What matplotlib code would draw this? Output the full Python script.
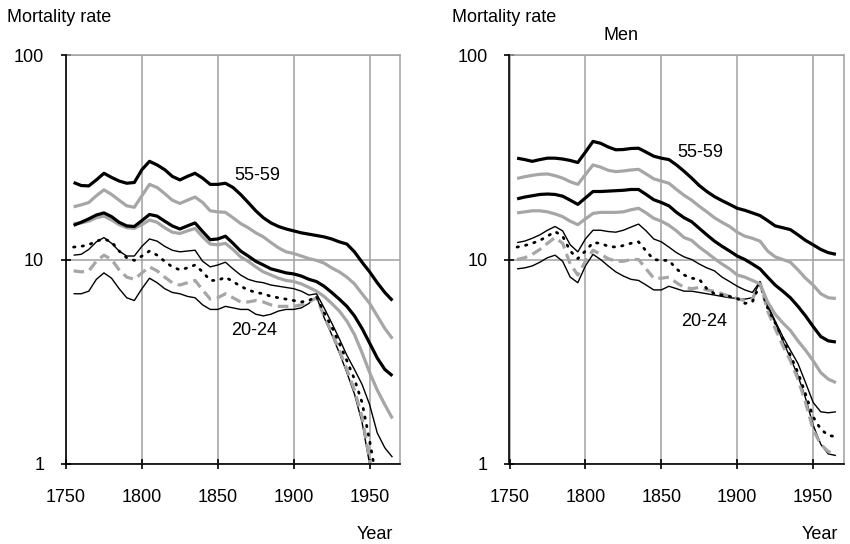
import matplotlib
matplotlib.use("Agg")
import matplotlib.pyplot as plt
from matplotlib.ticker import FixedLocator, FixedFormatter, NullLocator

plt.rcParams['font.family'] = ['Liberation Sans', 'DejaVu Sans']

years = list(range(1755, 1970, 5))

# ---------- Left panel ----------
L_55_59 = [23.8, 23.0, 22.9, 24.5, 26.4, 25.2, 24.2, 23.6, 23.8, 27.5, 30.2, 29.0, 27.5, 25.5, 24.5,
           25.5, 26.4, 25.0, 23.3, 23.3, 23.6, 22.5, 20.8, 19.0, 17.3, 16.0, 15.1, 14.5, 14.1, 13.8,
           13.5, 13.3, 13.1, 12.9, 12.6, 12.2, 11.9, 10.9, 9.7, 8.7, 7.7, 6.9, 6.3]
L_50_54 = [18.1, 18.5, 19.0, 20.5, 21.9, 20.8, 19.5, 18.3, 18.0, 20.5, 23.3, 22.5, 21.0, 19.5, 18.8,
           19.5, 20.2, 19.0, 17.3, 17.1, 17.0, 16.0, 15.0, 14.3, 13.5, 12.9, 12.1, 11.4, 10.9, 10.7,
           10.4, 10.1, 9.9, 9.6, 9.1, 8.7, 8.2, 7.6, 6.8, 6.1, 5.3, 4.6, 4.1]
L_45_49 = [14.7, 15.2, 15.8, 16.5, 16.9, 16.2, 15.2, 14.6, 14.5, 15.5, 16.6, 16.3, 15.4, 14.6, 14.1,
           14.6, 15.1, 13.7, 12.5, 12.6, 13.0, 12.0, 11.0, 10.4, 9.8, 9.4, 9.0, 8.8, 8.6, 8.5,
           8.3, 8.0, 7.8, 7.4, 6.9, 6.4, 5.9, 5.3, 4.6, 3.9, 3.3, 2.9, 2.7]
L_40_44 = [15.0, 15.1, 15.4, 16.0, 16.3, 15.6, 14.8, 14.3, 14.2, 14.8, 15.6, 15.2, 14.3, 13.6, 13.4,
           13.8, 14.2, 12.9, 11.9, 11.8, 12.0, 11.2, 10.3, 9.8, 9.2, 8.7, 8.4, 8.1, 7.9, 7.8,
           7.6, 7.3, 7.0, 6.6, 6.1, 5.6, 5.0, 4.3, 3.5, 2.8, 2.3, 1.95, 1.67]
L_35_39 = [10.5, 10.6, 11.2, 12.2, 12.8, 12.0, 11.0, 10.4, 10.4, 11.6, 12.6, 12.3, 11.6, 11.1, 10.9,
           11.0, 11.1, 9.8, 9.2, 9.4, 9.7, 9.0, 8.4, 8.0, 7.8, 7.7, 7.5, 7.4, 7.3, 7.2,
           7.0, 6.7, 6.8, 5.8, 4.9, 4.1, 3.4, 2.9, 2.45, 1.95, 1.42, 1.2, 1.08]
L_30_34 = [11.5, 11.6, 11.8, 12.3, 12.6, 12.2, 11.0, 10.2, 9.9, 10.4, 11.0, 10.5, 9.8, 9.2, 8.9,
           9.1, 9.4, 8.7, 7.9, 7.9, 8.2, 7.8, 7.4, 7.1, 6.9, 6.8, 6.6, 6.5, 6.4, 6.3,
           6.2, 6.3, 6.6, 5.5, 4.7, 3.9, 3.2, 2.6, 2.0, 1.3, 0.8, 0.6, 0.5]
L_25_29 = [8.8, 8.7, 8.8, 9.8, 10.5, 10.0, 8.9, 8.2, 8.0, 8.6, 9.2, 8.8, 8.2, 7.7, 7.5,
           7.7, 7.9, 7.1, 6.4, 6.5, 6.8, 6.5, 6.2, 6.2, 6.3, 6.2, 6.0, 5.9, 5.9, 5.9,
           6.0, 6.2, 6.5, 5.3, 4.4, 3.6, 2.9, 2.3, 1.7, 1.05, 0.7, 0.55, 0.45]
L_20_24 = [6.8, 6.8, 7.0, 8.0, 8.6, 8.1, 7.2, 6.5, 6.3, 7.2, 8.1, 7.7, 7.2, 6.9, 6.8,
           6.6, 6.5, 6.0, 5.7, 5.7, 5.9, 5.8, 5.7, 5.7, 5.4, 5.3, 5.4, 5.6, 5.7, 5.7,
           5.8, 6.1, 6.6, 5.2, 4.3, 3.5, 2.8, 2.2, 1.6, 1.0, 0.65, 0.5, 0.4]

# ---------- Right panel (Men) ----------
R_55_59 = [31.3, 30.8, 30.2, 30.8, 31.3, 31.3, 31.0, 30.5, 29.8, 33.5, 37.8, 37.0, 35.5, 34.4, 34.5,
           34.9, 35.0, 33.5, 32.0, 31.3, 30.8, 29.0, 27.0, 25.0, 23.0, 21.5, 20.3, 19.4, 18.6, 17.8,
           17.4, 16.9, 16.4, 15.5, 14.6, 14.3, 14.0, 13.2, 12.4, 11.8, 11.2, 10.8, 10.6]
R_50_54 = [24.9, 25.4, 25.8, 26.1, 26.2, 25.7, 25.0, 24.0, 23.3, 26.0, 29.0, 28.3, 27.3, 26.9, 27.1,
           27.4, 27.6, 26.2, 24.8, 24.2, 23.6, 22.0, 20.6, 19.5, 18.2, 17.1, 16.0, 15.2, 14.5, 13.6,
           13.0, 12.7, 12.3, 11.0, 10.3, 10.0, 9.7, 8.9, 8.1, 7.5, 6.8, 6.5, 6.45]
R_45_49 = [19.8, 20.2, 20.5, 20.8, 20.9, 20.8, 20.4, 19.5, 18.6, 20.0, 21.5, 21.5, 21.6, 21.7, 21.8,
           22.0, 22.0, 20.8, 19.6, 19.0, 18.3, 17.0, 16.0, 15.3, 14.2, 13.2, 12.3, 11.6, 11.0, 10.4,
           10.0, 9.5, 9.0, 8.2, 7.5, 7.0, 6.5, 5.9, 5.3, 4.7, 4.2, 4.0, 3.95]
R_40_44 = [16.9, 17.1, 17.3, 17.3, 17.1, 16.7, 16.2, 15.4, 14.8, 15.8, 16.8, 17.0, 17.0, 17.0, 17.1,
           17.5, 17.8, 16.9, 15.9, 15.4, 14.7, 13.8, 12.8, 12.4, 11.5, 10.8, 10.1, 9.5, 9.0, 8.4,
           8.2, 7.9, 7.6, 6.2, 5.4, 4.9, 4.5, 4.0, 3.6, 3.2, 2.8, 2.6, 2.5]
R_35_39 = [12.1, 12.3, 12.7, 13.2, 13.9, 14.5, 13.8, 11.8, 10.9, 12.6, 13.9, 13.9, 13.7, 13.6, 13.9,
           14.4, 14.9, 13.8, 12.6, 12.2, 11.5, 10.8, 10.3, 10.0, 9.5, 9.1, 8.8, 8.2, 7.8, 7.4,
           7.1, 6.9, 7.8, 6.0, 5.0, 4.2, 3.6, 3.1, 2.5, 2.0, 1.8, 1.78, 1.8]
R_30_34 = [11.5, 11.7, 12.0, 12.4, 13.0, 13.7, 13.0, 11.0, 10.1, 11.0, 12.1, 12.0, 11.6, 11.5, 11.7,
           12.0, 12.2, 11.0, 10.0, 9.9, 9.9, 9.0, 8.4, 8.1, 8.0, 7.2, 6.8, 6.7, 6.6, 6.45,
           6.1, 6.2, 7.6, 5.8, 4.9, 4.1, 3.4, 2.8, 2.2, 1.7, 1.48, 1.38, 1.36]
R_25_29 = [10.0, 10.2, 10.6, 11.2, 12.0, 12.8, 12.0, 9.5, 8.4, 9.8, 11.1, 10.6, 10.1, 9.8, 9.8,
           10.0, 10.0, 9.0, 8.1, 8.1, 8.2, 7.7, 7.3, 7.2, 7.3, 7.1, 7.0, 6.8, 6.6, 6.45,
           6.3, 6.4, 7.7, 5.6, 4.6, 3.8, 3.2, 2.6, 2.0, 1.47, 1.25, 1.15, 1.12]
R_20_24 = [9.0, 9.1, 9.3, 9.7, 10.2, 10.5, 9.8, 8.2, 7.7, 9.3, 10.6, 10.0, 9.3, 8.7, 8.3,
           8.0, 7.9, 7.5, 7.1, 7.1, 7.4, 7.2, 7.0, 7.0, 6.9, 6.8, 6.7, 6.6, 6.5, 6.45,
           6.4, 6.5, 7.8, 5.9, 4.9, 4.0, 3.3, 2.7, 2.1, 1.55, 1.25, 1.12, 1.1]

y_ticks = [1, 10, 100]
y_tick_labels = ["1", "10", "100"]
x_ticks = [1750, 1800, 1850, 1900, 1950]
x_tick_labels = ["1750", "1800", "1850", "1900", "1950"]

GREY = "#a6a6a6"
GRID = "#a0a0a0"
styles = [
    dict(color="black", lw=2.3),                      # 55-59
    dict(color=GREY, lw=2.3),                         # 50-54
    dict(color="black", lw=2.3),                      # 45-49
    dict(color=GREY, lw=2.3),                         # 40-44
    dict(color="black", lw=1.0),                      # 35-39
    dict(color="black", lw=2.0, ls=(0, (0.5, 2.6)), dash_capstyle="round"),  # 30-34
    dict(color=GREY, lw=2.3, ls=(0, (3.3, 1.8))),     # 25-29
    dict(color="black", lw=1.0),                      # 20-24
]

W, H = 850, 544
fig = plt.figure(figsize=(W / 100, H / 100), dpi=100)

def make_axes(x0_px, width_px):
    return fig.add_axes([x0_px / W, (H - 464) / H, width_px / W, (464 - 55) / H])

axL = make_axes(66, 334)
axR = make_axes(509.5, 334)

panels = [
    (axL, [L_55_59, L_50_54, L_45_49, L_40_44, L_35_39, L_30_34, L_25_29, L_20_24],
     (1876, 25.7), (1874, 4.5)),
    (axR, [R_55_59, R_50_54, R_45_49, R_40_44, R_35_39, R_30_34, R_25_29, R_20_24],
     (1876, 33.2), (1878.5, 5.0)),
]

for ax, series, pos_hi, pos_lo in panels:
    ax.set_yscale("log")
    ax.set_xlim(1750, 1970)
    ax.set_ylim(1, 100)
    # draw lower series first so thick lines lie on top
    for vals, st in reversed(list(zip(series, styles))):
        ax.plot(years, vals, solid_capstyle="butt", zorder=3, **st)
    ax.yaxis.set_major_locator(FixedLocator(y_ticks))
    ax.yaxis.set_major_formatter(FixedFormatter(y_tick_labels))
    ax.yaxis.set_minor_locator(NullLocator())
    ax.xaxis.set_major_locator(FixedLocator(x_ticks))
    ax.xaxis.set_major_formatter(FixedFormatter(x_tick_labels))
    ax.xaxis.set_minor_locator(NullLocator())
    ax.grid(True, which="major", color=GRID, lw=1.1, zorder=1)
    ax.set_axisbelow(True)
    for s in ("top", "right"):
        ax.spines[s].set_color(GRID)
        ax.spines[s].set_linewidth(1.1)
    for s in ("left", "bottom"):
        ax.spines[s].set_color("black")
        ax.spines[s].set_linewidth(1.2)
        ax.spines[s].set_zorder(4)
    ax.tick_params(axis="both", direction="inout", length=7.5, width=1.2,
                   colors="black", labelsize=13)
    ax.tick_params(axis="x", pad=14.5)
    ax.tick_params(axis="y", pad=12)
    ax.text(pos_hi[0], pos_hi[1], "55-59", fontsize=13, ha="center", va="center", zorder=5)
    ax.text(pos_lo[0], pos_lo[1], "20-24", fontsize=13, ha="center", va="center", zorder=5)

fig.text(7 / W, 1 - 22 / H, "Mortality rate", fontsize=13, ha="left", va="baseline")
fig.text(452 / W, 1 - 22 / H, "Mortality rate", fontsize=13, ha="left", va="baseline")
fig.text(621 / W, 1 - 40 / H, "Men", fontsize=13, ha="center", va="baseline")
fig.text(393 / W, 1 - 539 / H, "Year", fontsize=13, ha="right", va="baseline")
fig.text(838 / W, 1 - 539 / H, "Year", fontsize=13, ha="right", va="baseline")

fig.savefig("out.png", dpi=100)
